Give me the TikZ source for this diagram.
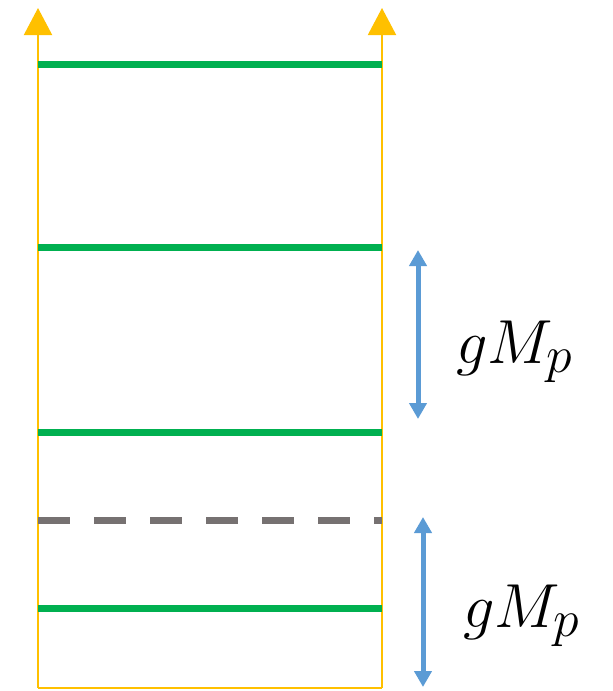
\documentclass[tikz,border=0pt]{standalone}
\usepackage{amsmath,amssymb}
\usepackage{graphicx}
\usepackage{tikz}
\usetikzlibrary{arrows.meta,calc}
\definecolor{railyellow}{HTML}{FFC000}
\definecolor{levelgreen}{HTML}{00B050}
\definecolor{levelgray}{HTML}{767171}
\definecolor{gapblue}{HTML}{5B9BD5}
\newcommand{\gaptext}{\scalebox{2.5}{\Huge$gM_p$}}
\tikzset{
  rail/.style={draw=railyellow, line width=2pt},
  railtip/.style={rail, -{Triangle[length=27pt,width=28pt]}},
  level/.style={draw=levelgreen, line width=7pt},
  cutlevel/.style={draw=levelgray, line width=7pt, dash pattern=on 32pt off 24pt},
  gap/.style={draw=gapblue, line width=5pt, {Triangle[length=16pt,width=17pt]}-{Triangle[length=16pt,width=17pt]}},
  gaplabel/.style={inner sep=0pt},
}

\begin{document}
\begin{tikzpicture}[x=1pt,y=-1pt]
\useasboundingbox (0,0) rectangle (613,691);
% rails
\coordinate (tl) at (38,8);
\coordinate (tr) at (382,8);
\coordinate (bl) at (38,688);
\coordinate (br) at (382,688);
\draw[rail] (bl) -- (br);
\draw[railtip] (bl) -- (tl);
\draw[railtip] (br) -- (tr);
% levels
\foreach \y/\n in {64/a,247/b,432/c,608/d}
  \draw[level] (38,\y) coordinate (\n l) -- (382,\y) coordinate (\n r);
\draw[cutlevel] (38,520) coordinate (cutl) -- (382,520) coordinate (cutr);
% spacings
\coordinate (g1top) at (418,250);
\coordinate (g1bot) at (418,419);
\coordinate (g2top) at (423,517);
\coordinate (g2bot) at (423,687);
\draw[gap] (g1top) -- (g1bot);
\draw[gap] (g2top) -- (g2bot);
\node[gaplabel] (lab1) at (515,352) {\gaptext};
\node[gaplabel] (lab2) at (522,616) {\gaptext};
\end{tikzpicture}
\end{document}
